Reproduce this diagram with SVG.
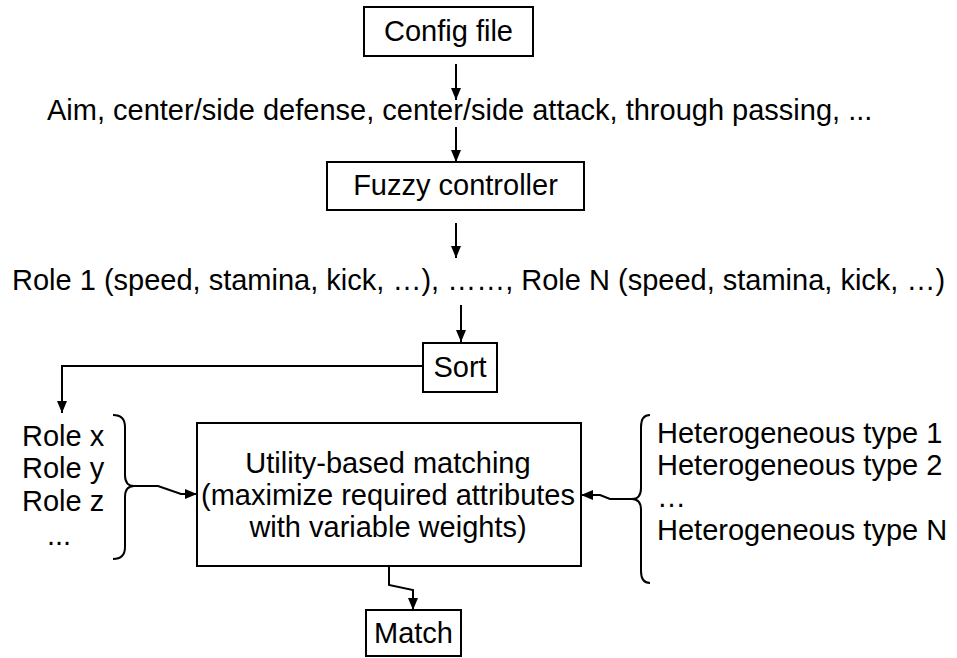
<svg xmlns="http://www.w3.org/2000/svg" width="957" height="658" viewBox="0 0 957 658">
<defs>
<marker id="ah" viewBox="0 0 12 10" refX="12" refY="5" markerWidth="12" markerHeight="10" markerUnits="userSpaceOnUse" orient="auto">
<path d="M0,0 L12,5 L0,10 Z" fill="#000"/>
</marker>
</defs>
<style>
text{font-family:"Liberation Sans",Arial,sans-serif;font-size:29px;fill:#000}
.box{fill:#fff;stroke:#000;stroke-width:2}
.c{fill:none;stroke:#000;stroke-width:2}
.a{marker-end:url(#ah)}
.m{text-anchor:middle}
</style>
<rect width="957" height="658" fill="#fff"/>
<g id="connectors">
<path class="c a" d="M456,64 V100"/>
<path class="c a" d="M456,127 V162"/>
<path class="c a" d="M456,223 V258"/>
<path class="c a" d="M461,305 V342"/>
<path class="c a" d="M423,366 H62 V413"/>
<path class="c" d="M113,415 Q125,415 125,427 V475 Q125,486 134,486 Q125,486 125,497 V547 Q125,559 113,559"/>
<path class="c a" d="M134,486 H158 L181,494 H197"/>
<path class="c" d="M650,415 Q641,415 641,427 V488 Q641,499 632,499 Q641,499 641,510 V571 Q641,583 650,583"/>
<path class="c a" d="M632,499 H610 L600,495 H581"/>
<path class="c a" d="M389,566 V585 L413,590 V610"/>
</g>
<g id="config">
<rect class="box" x="364" y="7" width="169" height="49"/>
<text class="m" x="448.5" y="41">Config file</text>
</g>
<g id="aims">
<text x="47" y="120">Aim, center/side defense, center/side attack, through passing, ...</text>
</g>
<g id="fuzzy">
<rect class="box" x="327" y="162" width="257" height="48"/>
<text class="m" x="455.5" y="195">Fuzzy controller</text>
</g>
<g id="roles">
<text x="12" y="290">Role 1 (speed, stamina, kick, …), ……, Role N (speed, stamina, kick, …)</text>
</g>
<g id="sort">
<rect class="box" x="423" y="343" width="74" height="49"/>
<text class="m" x="460" y="377">Sort</text>
</g>
<g id="rolelist">
<text x="22" y="446">Role x</text>
<text x="22" y="478">Role y</text>
<text x="22" y="511">Role z</text>
<text x="47" y="545">...</text>
</g>
<g id="matching">
<rect class="box" x="197" y="423" width="384" height="143"/>
<text class="m" x="388" y="473">Utility-based matching</text>
<text class="m" x="388" y="505">(maximize required attributes</text>
<text class="m" x="388" y="537">with variable weights)</text>
</g>
<g id="types">
<text x="657" y="443">Heterogeneous type 1</text>
<text x="657" y="475">Heterogeneous type 2</text>
<text x="657" y="507">…</text>
<text x="657" y="540">Heterogeneous type N</text>
</g>
<g id="match">
<rect class="box" x="366" y="610" width="95" height="46"/>
<text class="m" x="413.5" y="643">Match</text>
</g>
</svg>
